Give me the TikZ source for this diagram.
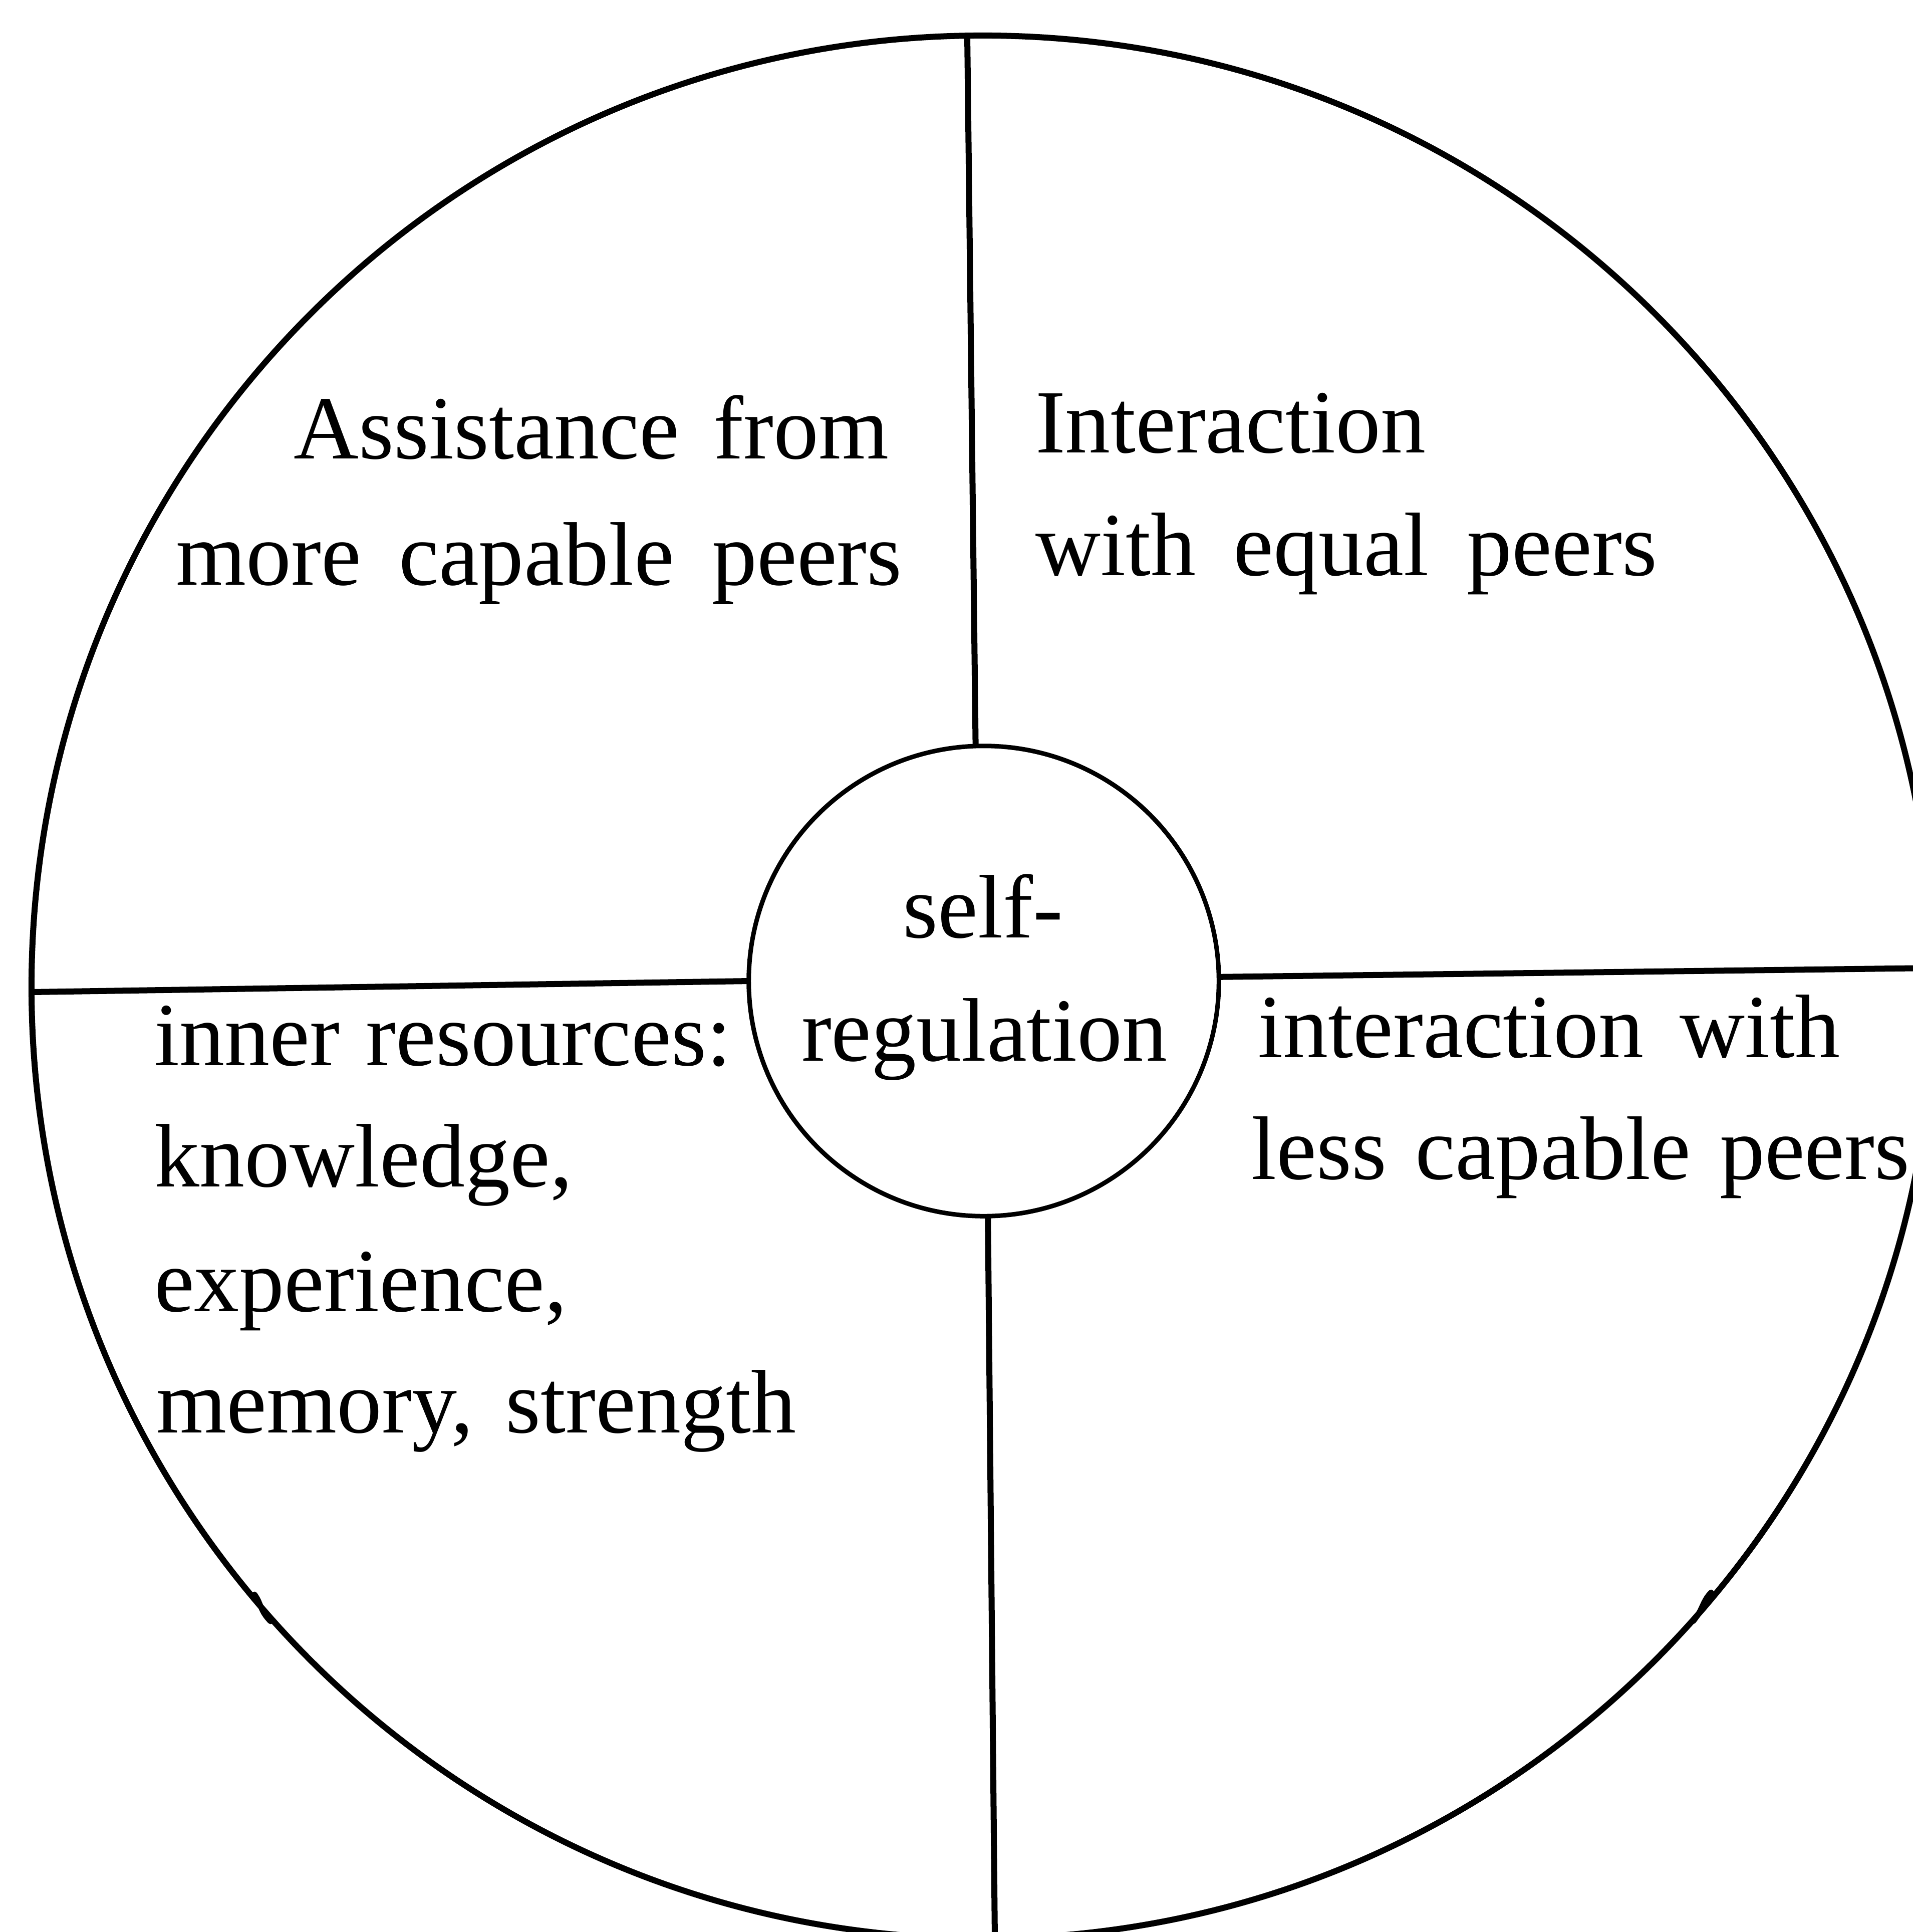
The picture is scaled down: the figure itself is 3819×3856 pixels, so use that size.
\documentclass[tikz,border=0pt]{standalone}
\usepackage{fontspec}
\setmainfont{Liberation Serif}
% a line of text whose word gaps are stretched to a given width
\newcommand{\spreadline}[2]{\makebox[#1][s]{#2}}
\begin{document}
\begin{tikzpicture}[x=0.01cm,y=-0.01cm,
  rule/.style={line width=0.12cm},
  jog/.style={line width=0.11cm, line cap=round},
  txt/.style={inner sep=0pt, outer sep=0pt, anchor=base west,
    font=\fontsize{51.2pt}{70pt}\selectfont},
  rim/.style={draw, circle, line width=0.12cm, minimum size=37.96cm,
    inner sep=0pt, outer sep=0pt},
  hub/.style={draw, circle, line width=0.09cm, minimum size=9.38cm,
    inner sep=0pt, outer sep=0pt}]
\useasboundingbox (0,0) rectangle (3819,3856);
\clip (0,0) rectangle (3819,3856);

% outer ring and central circle
\node[rim] (rim) at (1962,1970) {};
\node[hub] (hub) at (1964,1958) {};

% small jogs where the arcs of the outer ring were joined
\draw[jog] (508,3182) .. controls (522,3200) and (518,3214) .. (540,3236);
\draw[jog] (3416,3178) .. controls (3398,3196) and (3400,3212) .. (3380,3236);

% where the spokes meet the outer ring
\coordinate (rimN) at (1931,73);
\coordinate (rimW) at (64,1980);
\coordinate (rimE) at (3860,1932);
\coordinate (rimS) at (1986,3868);

% four spokes dividing the ring into quarters
\draw[rule] (rimN) -- (hub.92);
\draw[rule] (rimW) -- (hub.180);
\draw[rule] (rimE) -- (hub.1);
\draw[rule] (hub.271) -- (rimS);

% centre
\node[txt, anchor=base] (c1) at (1962,1871) {self-};
\node[txt, anchor=base] (c2) at (1965,2117) {regulation};

% upper left
\node[txt] (a1) at (586,915) {\spreadline{11.88cm}{Assistance from}};
\node[txt] (a2) at (351,1167) {\spreadline{14.49cm}{more capable peers}};

% upper right
\node[txt] (b1) at (2067,903) {Interaction};
\node[txt] (b2) at (2067,1148) {\spreadline{12.41cm}{with equal peers}};

% lower left
\node[txt] (d1) at (308,2126) {\spreadline{11.52cm}{inner resources:}};
\node[txt] (d2) at (308,2368) {knowledge,};
\node[txt] (d3) at (308,2617) {experience,};
\node[txt] (d4) at (312,2859) {\spreadline{12.77cm}{memory, strength}};

% lower right
\node[txt] (e1) at (2511,2110) {\spreadline{11.62cm}{interaction with}};
\node[txt] (e2) at (2498,2353) {\spreadline{13.14cm}{less capable peers}};
\end{tikzpicture}
\end{document}
